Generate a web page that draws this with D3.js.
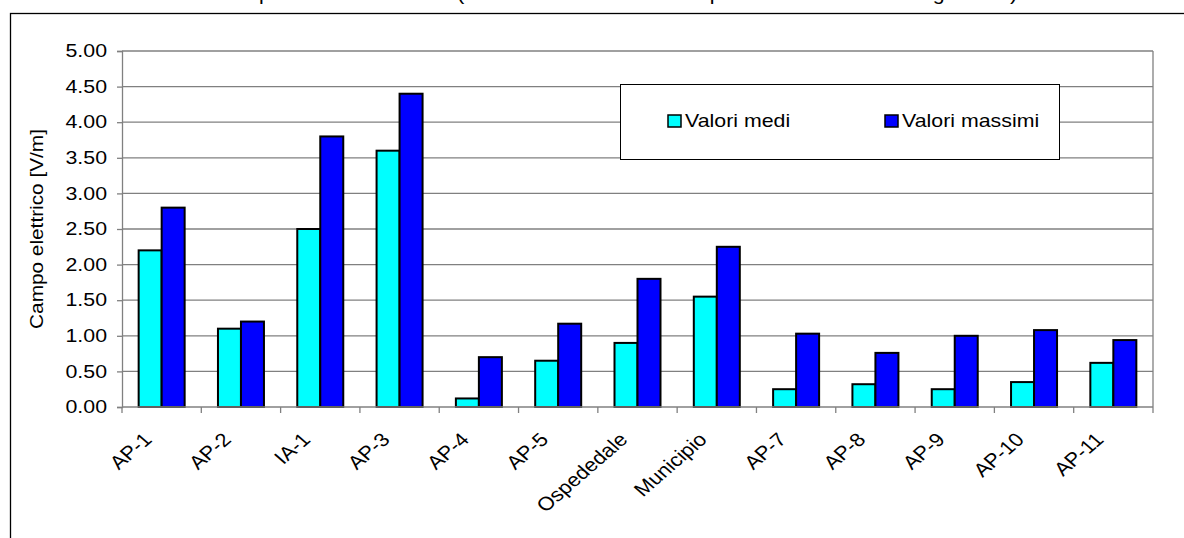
<!DOCTYPE html>
<html>
<head>
<meta charset="utf-8">
<script src="https://cdn.jsdelivr.net/npm/d3@7"></script>
<style>
  body { margin: 0; background: #fff; }
  svg { display: block; font-family: Arial, "Liberation Sans", sans-serif; }
</style>
</head>
<body>
<svg id="chart" width="1184" height="538"></svg>
<script>
// Measurement points and electric field values [V/m]
const categories = ["AP-1", "AP-2", "IA-1", "AP-3", "AP-4", "AP-5", "Ospededale", "Municipio", "AP-7", "AP-8", "AP-9", "AP-10", "AP-11"];
const valoriMedi = [2.20, 1.10, 2.50, 3.60, 0.12, 0.65, 0.90, 1.55, 0.25, 0.32, 0.25, 0.35, 0.62];
const valoriMassimi = [2.80, 1.20, 3.80, 4.40, 0.70, 1.17, 1.80, 2.25, 1.03, 0.76, 1.00, 1.08, 0.94];
const seriesNames = ["Valori medi", "Valori massimi"];
const seriesColors = ["#00ffff", "#0000ff"];
const yTickValues = [0, 0.5, 1, 1.5, 2, 2.5, 3, 3.5, 4, 4.5, 5];
const yAxisTitle = "Campo elettrico [V/m]";
const chartTitle = "Campo elettrico misurato (valori medi e massimi nel periodo di misura di tre giornate)";

const svg = d3.select("#chart");
const plot = { left: 122, right: 1153, top: 51, bottom: 407 };
const FONT = 17.5;      // label font size
const WIDE = 1.22;      // horizontal stretch of the label glyphs

// Outer chart frame
svg.append("rect")
  .attr("x", 10.5).attr("y", 13.5)
  .attr("width", 1300).attr("height", 700)
  .attr("fill", "#fff").attr("stroke", "#000").attr("stroke-width", 1.3);

// Title (sits above the frame)
svg.append("text")
  .attr("transform", `translate(214,0) scale(${WIDE},1)`)
  .attr("font-size", FONT)
  .text(chartTitle);

const x = d3.scaleBand().domain(categories).range([plot.left, plot.right]).paddingInner(0.42).paddingOuter(0.21);
const xs = d3.scaleBand().domain(seriesNames).range([0, x.bandwidth()]);
const y = d3.scaleLinear().domain([0, 5]).range([plot.bottom, plot.top]);
const color = d3.scaleOrdinal().domain(seriesNames).range(seriesColors);

// Gridlines
svg.append("g").selectAll("line").data(yTickValues.filter(d => d > 0)).join("line")
  .attr("x1", plot.left).attr("x2", plot.right)
  .attr("y1", d => y(d)).attr("y2", d => y(d))
  .attr("stroke", "#808080").attr("stroke-width", 1.3);

// Right border of plot area
svg.append("line")
  .attr("x1", plot.right).attr("x2", plot.right)
  .attr("y1", plot.top).attr("y2", plot.bottom)
  .attr("stroke", "#808080").attr("stroke-width", 1.3);

// Bars
const rows = categories.map((c, i) => ({ cat: c, values: [valoriMedi[i], valoriMassimi[i]] }));
svg.append("g").selectAll("g").data(rows).join("g")
  .attr("transform", d => `translate(${x(d.cat)},0)`)
  .selectAll("rect").data(d => d.values.map((v, k) => ({ key: seriesNames[k], v })))
  .join("rect")
  .attr("x", d => xs(d.key))
  .attr("y", d => y(d.v))
  .attr("width", xs.bandwidth())
  .attr("height", d => y(0) - y(d.v))
  .attr("fill", d => color(d.key))
  .attr("stroke", "#000").attr("stroke-width", 2);

// Y axis
const yAxis = svg.append("g")
  .attr("transform", `translate(${plot.left},0)`)
  .call(d3.axisLeft(y).tickValues(yTickValues).tickFormat(d3.format(".2f")).tickSize(5));
yAxis.select(".domain").attr("stroke", "#808080").attr("stroke-width", 1.3);
yAxis.selectAll(".tick line").attr("stroke", "#808080").attr("stroke-width", 1.3);
yAxis.selectAll(".tick text")
  .attr("x", -15 / WIDE)
  .attr("transform", `scale(${WIDE},1)`)
  .attr("font-size", FONT).attr("fill", "#000")
  .attr("font-family", "Arial, 'Liberation Sans', sans-serif");

// X axis baseline and category boundary ticks
const step = x.step();
const boundaries = d3.range(categories.length + 1).map(i => plot.left + i * step);
svg.append("line")
  .attr("x1", plot.left).attr("x2", plot.right)
  .attr("y1", y(0)).attr("y2", y(0))
  .attr("stroke", "#808080").attr("stroke-width", 1.3);
svg.append("g").selectAll("line").data(boundaries).join("line")
  .attr("x1", d => d).attr("x2", d => d)
  .attr("y1", y(0)).attr("y2", y(0) + 6)
  .attr("stroke", "#808080").attr("stroke-width", 1.3);

// Category labels, rotated 45° and widened like the rest of the text
svg.append("g").selectAll("text").data(categories).join("text")
  .attr("transform", d => `translate(${x(d) + x.bandwidth() / 2 - 14},${y(0) + 29}) scale(1.15,1) rotate(-45)`)
  .attr("text-anchor", "end")
  .attr("dy", "0.35em")
  .attr("font-size", 19)
  .text(d => d);

// Y axis title
svg.append("text")
  .attr("transform", `translate(43,${(plot.top + plot.bottom) / 2}) rotate(-90) scale(1.156,1)`)
  .attr("text-anchor", "middle")
  .attr("font-size", 18)
  .text(yAxisTitle);

// Legend
const legend = svg.append("g");
legend.append("rect")
  .attr("x", 620.5).attr("y", 84.5).attr("width", 439).attr("height", 75)
  .attr("fill", "#fff").attr("stroke", "#000").attr("stroke-width", 1);
const legendItems = legend.selectAll("g.item").data(seriesNames).join("g")
  .attr("class", "item")
  .attr("transform", (d, i) => `translate(${[668, 885][i]},115)`);
legendItems.append("rect")
  .attr("width", 13).attr("height", 12)
  .attr("fill", d => color(d)).attr("stroke", "#000").attr("stroke-width", 1.5);
legendItems.append("text")
  .attr("transform", `translate(17,6) scale(${WIDE},1)`)
  .attr("dy", "0.35em")
  .attr("font-size", FONT)
  .text(d => d);
</script>
</body>
</html>
